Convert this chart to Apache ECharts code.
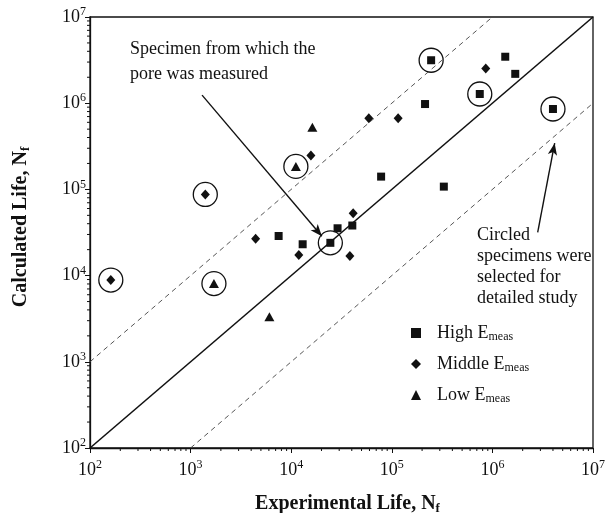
<!DOCTYPE html>
<html>
<head>
<meta charset="utf-8">
<script src="https://cdn.jsdelivr.net/npm/echarts@6/dist/echarts.min.js"></script>
<style>
  html, body { margin: 0; padding: 0; background: #fff; }
  #chart { width: 615px; height: 513px; }
</style>
</head>
<body>
<div id="chart"></div>
<script>
// experimental life vs calculated life (cycles)
const highE = [[7500, 28800], [13000, 23100], [24500, 24000], [28900, 35400], [40500, 38100],
  [78300, 140700], [214000, 978000], [246000, 3150000], [329000, 107700], [749000, 1278000],
  [1342000, 3460000], [1687000, 2190000], [4000000, 856000]];
const middleE = [[161, 8880], [1400, 87400], [4430, 26800], [11900, 17300], [15700, 247000],
  [38300, 16900], [41300, 52800], [59100, 671000], [115600, 667000], [859000, 2520000]];
const lowE = [[1706, 8080], [6070, 3340], [11130, 184800], [16230, 524600]];

// indexes of the circled specimens
const highCircled = [2, 7, 9, 12];
const middleCircled = [0, 1];
const lowCircled = [0, 2];

// 1:1 line and factor-of-10 bands
const lineEqual = [[1e2, 1e2], [1e7, 1e7]];
const lineUpper = [[1e2, 1e3], [1e6, 1e7]];
const lineLower = [[1e3, 1e2], [1e7, 1e6]];

// tick labels are 10^n
const decades = [2, 3, 4, 5, 6, 7];
const minorSteps = [2, 3, 4, 5, 6, 7, 8, 9];

// annotation arrows, in data coords
const arrowPore = [[1300, 1240000], [20200, 28600]];
const arrowCircled = [[2820000, 31800], [4160000, 344000]];

const serif = 'Liberation Serif';
const ink = '#111';

const circled = highCircled.map(i => highE[i])
  .concat(middleCircled.map(i => middleE[i]))
  .concat(lowCircled.map(i => lowE[i]));

let minorVals = [];
decades.slice(0, -1).forEach(d => {
  minorSteps.forEach(m => minorVals.push(m * Math.pow(10, d)));
});

function powLabel(v) {
  const e = Math.round(Math.log10(v));
  return decades.indexOf(e) >= 0 ? '{b|10}{s|' + e + '}' : '';
}
const powRich = {
  b: { fontSize: 18, fontFamily: serif, color: ink, lineHeight: 22 },
  s: { fontSize: 12, fontFamily: serif, color: ink, lineHeight: 12, verticalAlign: 'top' }
};
// bold axis title with subscript f
const titleRich = {
  t: { fontSize: 20, fontWeight: 'bold', fontFamily: serif, color: ink, lineHeight: 22 },
  s: { fontSize: 13, fontWeight: 'bold', fontFamily: serif, color: ink, lineHeight: 11, verticalAlign: 'bottom' }
};

let chart = echarts.init(document.getElementById('chart'));
let option = {
  animation: false,
  grid: {
    left: 90, right: 22, top: 17, bottom: 65,
    outerBoundsMode: 'none',
    show: true, borderColor: ink, borderWidth: 1.3
  },
  legend: {
    orient: 'vertical',
    left: 406, top: 319,
    itemWidth: 10, itemHeight: 10, itemGap: 12,
    data: ['High', 'Middle', 'Low'],
    formatter: n => '{a|' + n + ' E}{s|meas}',
    textStyle: {
      rich: {
        a: { fontSize: 18, fontFamily: serif, color: ink, lineHeight: 20, padding: [0, 0, 0, 11] },
        s: { fontSize: 12, fontFamily: serif, color: ink, lineHeight: 10, verticalAlign: 'bottom' }
      }
    }
  },
  xAxis: {
    type: 'log', logBase: 10, min: 1e2, max: 1e7,
    name: '{t|Experimental Life, N}{s|f}',
    nameLocation: 'middle', nameGap: 45,
    nameTextStyle: { rich: titleRich, padding: [0, 0, 0, 12] },
    axisLine: { lineStyle: { color: ink, width: 1.3 } },
    axisTick: { length: 5, lineStyle: { color: ink } },
    axisLabel: { formatter: powLabel, rich: powRich, margin: 11 },
    splitLine: { show: false }
  },
  yAxis: {
    type: 'log', logBase: 10, min: 1e2, max: 1e7,
    name: '{t|Calculated Life, N}{s|f}',
    nameLocation: 'middle', nameGap: 58,
    nameTextStyle: { rich: titleRich, padding: [0, 0, 0, 11] },
    axisLine: { lineStyle: { color: ink, width: 1.3 } },
    axisTick: { length: 5, lineStyle: { color: ink } },
    axisLabel: { formatter: powLabel, rich: powRich, margin: 4 },
    splitLine: { show: false }
  },
  graphic: [
    {
      type: 'text', left: 130, top: 37, silent: true,
      style: {
        text: 'Specimen from which the\npore was measured',
        font: '18px "Liberation Serif"', fill: ink, lineHeight: 25
      }
    },
    {
      type: 'text', left: 477, top: 225, silent: true,
      style: {
        text: 'Circled\nspecimens were\nselected for\ndetailed study',
        font: '18px "Liberation Serif"', fill: ink, lineHeight: 21
      }
    }
  ],
  series: [
    {
      name: 'equal', type: 'line', data: lineEqual, showSymbol: false, silent: true,
      lineStyle: { color: ink, width: 1.6 }
    },
    {
      name: 'upper', type: 'line', data: lineUpper, showSymbol: false, silent: true,
      lineStyle: { color: '#444', width: 0.9, type: [5, 4] }
    },
    {
      name: 'lower', type: 'line', data: lineLower, showSymbol: false, silent: true,
      lineStyle: { color: '#444', width: 0.9, type: [5, 4] }
    },
    {
      name: 'arrows', type: 'line', data: [], silent: true,
      markLine: {
        silent: true,
        symbol: ['none', 'arrow'],
        symbolSize: [7, 12],
        label: { show: false },
        lineStyle: { color: ink, width: 1.4, type: 'solid' },
        data: [
          [{ coord: arrowPore[0] }, { coord: arrowPore[1] }],
          [{ coord: arrowCircled[0] }, { coord: arrowCircled[1] }]
        ]
      }
    },
    {
      name: 'circled', type: 'scatter', data: circled, symbol: 'circle', symbolSize: 24,
      silent: true,
      itemStyle: { color: 'rgba(0,0,0,0)', borderColor: ink, borderWidth: 1.3, opacity: 1 }
    },
    {
      name: 'High', type: 'scatter', data: highE, symbol: 'rect', symbolSize: 8,
      itemStyle: { color: ink, opacity: 1 }
    },
    {
      name: 'Middle', type: 'scatter', data: middleE, symbol: 'diamond', symbolSize: [9, 10],
      itemStyle: { color: ink, opacity: 1 }
    },
    {
      name: 'Low', type: 'scatter', data: lowE, symbol: 'triangle', symbolSize: [10, 9],
      itemStyle: { color: ink, opacity: 1 }
    },
    {
      // minor ticks at 2..9 x 10^n on the x axis
      name: 'xminor', type: 'custom', clip: false, silent: true,
      data: minorVals.map(v => [v, 1e2]),
      renderItem: function (params, api) {
        let p = api.coord([api.value(0), api.value(1)]);
        return {
          type: 'line',
          shape: { x1: p[0], y1: p[1], x2: p[0], y2: p[1] + 3 },
          style: { stroke: ink, lineWidth: 1 }
        };
      }
    },
    {
      name: 'yminor', type: 'custom', clip: false, silent: true,
      data: minorVals.map(v => [1e2, v]),
      renderItem: function (params, api) {
        let p = api.coord([api.value(0), api.value(1)]);
        return {
          type: 'line',
          shape: { x1: p[0] - 3, y1: p[1], x2: p[0], y2: p[1] },
          style: { stroke: ink, lineWidth: 1 }
        };
      }
    }
  ]
};
chart.setOption(option);
</script>
</body>
</html>
